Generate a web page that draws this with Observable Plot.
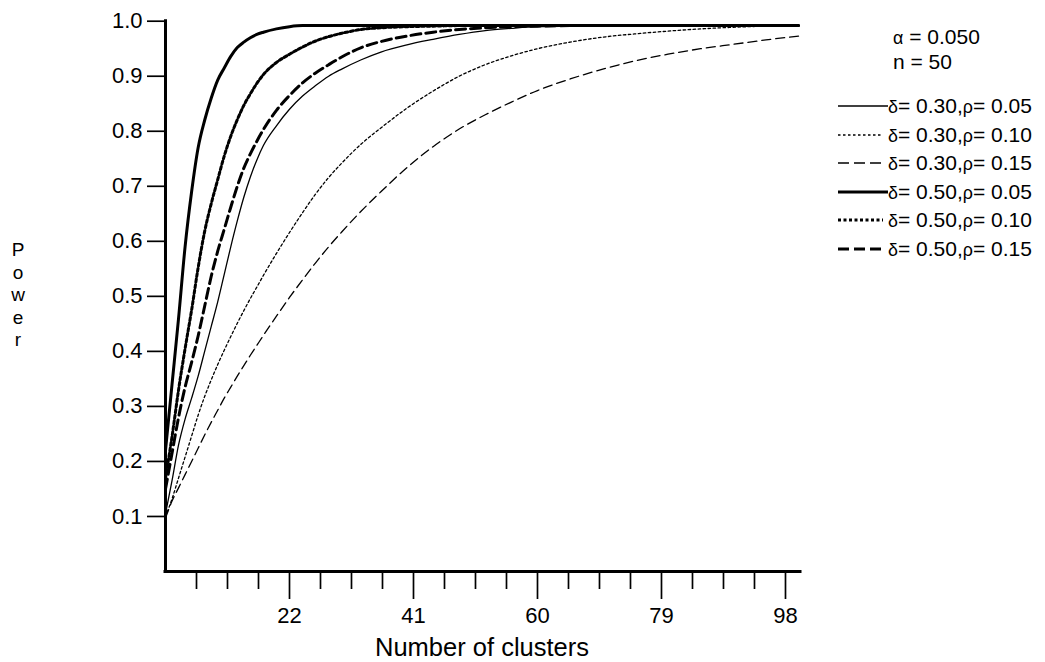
<!DOCTYPE html>
<html><head><meta charset="utf-8">
<script src="https://cdn.jsdelivr.net/npm/d3@7"></script>
<script src="https://cdn.jsdelivr.net/npm/@observablehq/plot@0.6"></script>
<style>
html,body{margin:0;padding:0;background:#fff;}
body{font-family:"Liberation Sans",Arial,sans-serif;color:#000;}
#wrap{position:relative;width:1045px;height:662px;overflow:hidden;}
#chart{position:absolute;left:0;top:0;}
.ov{position:absolute;white-space:nowrap;line-height:1;}
.gk{font-size:0.85em;}
.yl{position:absolute;left:8px;width:20px;text-align:center;font-size:19px;line-height:1;}
#xlab{position:absolute;left:0;width:964px;text-align:center;font-size:25.5px;}
.row{position:absolute;left:836px;height:24px;display:flex;align-items:center;font-size:21px;white-space:nowrap;}
.row svg{display:block;flex:none;}
</style></head>
<body><div id="wrap"><div id="chart"></div></div>
<script>
// ---- data ----
const clusters = [3,4,5,6,7,8,9,10,11,12,13,14,15,16,17,18,20,22,24,26,28,30,33,36,40,44,48,52,56,60,65,70,75,80,85,90,95,100];

// delta = 0.30
const powerD30R05 = [0.105,0.165,0.23,0.277,0.315,0.355,0.4,0.445,0.49,0.54,0.59,0.637,0.68,0.717,0.748,0.774,0.81,0.84,0.864,0.883,0.9,0.913,0.93,0.944,0.957,0.967,0.976,0.983,0.987,0.99,0.991,0.992,0.992,0.992,0.992,0.992,0.992,0.992];
const powerD30R10 = [0.1,0.132,0.17,0.208,0.246,0.284,0.318,0.348,0.376,0.402,0.427,0.451,0.474,0.496,0.517,0.538,0.578,0.616,0.652,0.686,0.716,0.742,0.777,0.806,0.842,0.873,0.9,0.921,0.937,0.95,0.962,0.971,0.977,0.982,0.986,0.989,0.991,0.992];
const powerD30R15 = [0.097,0.128,0.152,0.176,0.2,0.224,0.248,0.271,0.293,0.315,0.335,0.355,0.374,0.393,0.411,0.429,0.464,0.498,0.53,0.561,0.59,0.617,0.655,0.69,0.734,0.772,0.804,0.83,0.853,0.874,0.895,0.913,0.928,0.94,0.95,0.958,0.966,0.973];
// delta = 0.50
const powerD50R05 = [0.22,0.34,0.46,0.59,0.69,0.77,0.82,0.86,0.893,0.915,0.936,0.952,0.962,0.97,0.976,0.98,0.986,0.99,0.992,0.992,0.992,0.992,0.992,0.992,0.992,0.992,0.992,0.992,0.992,0.992,0.992,0.992,0.992,0.992,0.992,0.992,0.992,0.992];
const powerD50R10 = [0.17,0.245,0.33,0.405,0.475,0.552,0.618,0.668,0.712,0.755,0.791,0.821,0.847,0.868,0.887,0.903,0.925,0.94,0.953,0.964,0.972,0.978,0.985,0.988,0.99,0.991,0.992,0.992,0.992,0.992,0.992,0.992,0.992,0.992,0.992,0.992,0.992,0.992];
const powerD50R15 = [0.15,0.215,0.28,0.335,0.38,0.428,0.482,0.536,0.582,0.622,0.662,0.7,0.733,0.759,0.782,0.803,0.838,0.865,0.888,0.906,0.921,0.935,0.952,0.963,0.973,0.98,0.985,0.988,0.99,0.991,0.992,0.992,0.992,0.992,0.992,0.992,0.992,0.992];

const seriesDelta = ["0.30","0.30","0.30","0.50","0.50","0.50"];
const seriesRho = ["0.05","0.10","0.15","0.05","0.10","0.15"];

const yTicks = [0.1,0.2,0.3,0.4,0.5,0.6,0.7,0.8,0.9,1.0];
const xMajorTicks = [22,41,60,79,98];
const xMinorTicks = [7.75,12.5,17.25,26.75,31.5,36.25,45.75,50.5,55.25,64.75,69.5,74.25,83.75,88.5,93.25];
const alphaText = "0.050";
const nText = "50";
const yTitle = "Power";

// ---- styles ----
const seriesValues = [powerD30R05, powerD30R10, powerD30R15, powerD50R05, powerD50R10, powerD50R15];
const seriesStyle = [
  {w:1.3, dash:null},
  {w:1.3, dash:"2.5,2.5"},
  {w:1.3, dash:"9,5"},
  {w:3, dash:null},
  {w:3, dash:"3,2.5"},
  {w:3, dash:"10,5"}
];
const legendDash = [null,"2.5,2.5","11,5",null,"3,2.5","11,5"];

const series = seriesValues.map((vals, s) => clusters.map((c, i) => ({clusters: c, power: vals[i], s})));

const lineMarks = series.map((d, s) => Plot.line(d, {
  x: "clusters", y: "power", stroke: "black",
  strokeWidth: seriesStyle[s].w,
  strokeDasharray: seriesStyle[s].dash || undefined,
  curve: "monotone-x"
}));

const chart = Plot.plot({
  width: 1045,
  height: 662,
  marginLeft: 165,
  marginRight: 245,
  marginTop: 20.7,
  marginBottom: 91,
  style: {background: "#fff", fontFamily: "'Liberation Sans', Arial, sans-serif", fontSize: "22px", color: "#000"},
  x: {domain: [3, 100.3], label: null},
  y: {domain: [0, 1], label: null},
  marks: [
    ...lineMarks,
    Plot.axisY(yTicks, {tickSize: 18, tickPadding: 5, fontSize: 22, strokeWidth: 1.7, tickFormat: d3.format(".1f"), label: null}),
    Plot.axisX(xMajorTicks, {tickSize: 28, tickPadding: 8, fontSize: 22, strokeWidth: 1.7, tickFormat: d => String(d), label: null}),
    Plot.axisX(xMinorTicks, {tickSize: 18, strokeWidth: 1.7, tickFormat: () => "", label: null}),
    Plot.ruleX([3], {strokeWidth: 3, strokeLinecap: "square"}),
    Plot.ruleY([0], {strokeWidth: 3, strokeLinecap: "square"})
  ]
});
document.getElementById("chart").appendChild(chart);

const wrap = document.getElementById("wrap");

// y title, stacked letters (one element per letter)
yTitle.split("").forEach((ch, i) => {
  const el = document.createElement("div");
  el.className = "yl";
  el.style.top = (240 + i * 22.5) + "px";
  el.textContent = ch;
  wrap.appendChild(el);
});

// x title
const xlab = document.createElement("div");
xlab.id = "xlab";
xlab.style.top = "633px";
xlab.textContent = "Number of clusters";
wrap.appendChild(xlab);

// legend header
const a = document.createElement("div");
a.className = "ov";
a.style.cssText = "left:893px;top:26px;font-size:21px;";
a.innerHTML = '<span class="gk">α</span> = ' + alphaText;
wrap.appendChild(a);
const n = document.createElement("div");
n.className = "ov";
n.style.cssText = "left:893px;top:51px;font-size:21px;";
n.textContent = "n = " + nText;
wrap.appendChild(n);

// legend rows
const rowCenters = [106, 134.5, 163, 191.5, 220, 248.5];
seriesDelta.forEach((dl, s) => {
  const row = document.createElement("div");
  row.className = "row";
  row.style.top = (rowCenters[s] - 12) + "px";
  const dash = legendDash[s] ? ` stroke-dasharray="${legendDash[s]}"` : "";
  row.innerHTML = `<svg width="52" height="24"><line x1="2" x2="${s % 3 === 0 ? 52 : 47}" y1="12" y2="12" stroke="black" stroke-width="${seriesStyle[s].w}"${dash}/></svg>` +
    `<span><span class="gk">δ</span>= ${dl},<span class="gk">ρ</span>= ${seriesRho[s]}</span>`;
  wrap.appendChild(row);
});
</script>
</body></html>
